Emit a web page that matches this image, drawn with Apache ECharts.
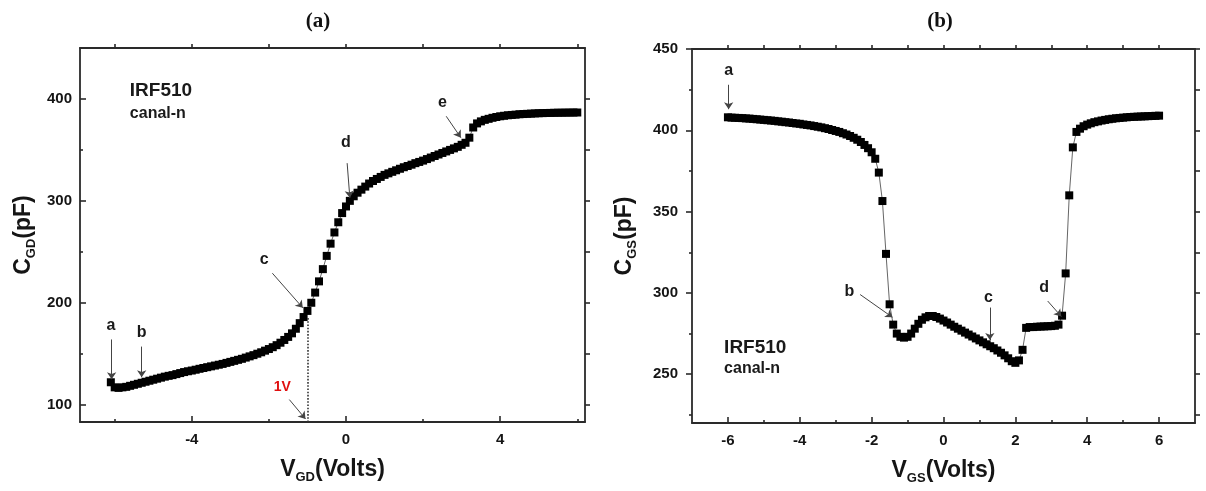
<!DOCTYPE html>
<html>
<head>
<meta charset="utf-8">
<script src="https://cdn.jsdelivr.net/npm/echarts@6/dist/echarts.min.js"></script>
<style>
html,body{margin:0;padding:0;background:#fff;}
#c{width:1206px;height:491px;}
</style>
</head>
<body>
<div id="c"></div>
<script>
// ---------- Panel (a): C_GD vs V_GD ----------
const vgd = [-6.1,-6.0,-5.9,-5.8,-5.7,-5.6,-5.5,-5.4,-5.3,-5.2,-5.1,-5.0,-4.9,-4.8,-4.7,-4.6,-4.5,-4.4,-4.3,-4.2,-4.1,-4.0,
  -3.9,-3.8,-3.7,-3.6,-3.5,-3.4,-3.3,-3.2,-3.1,-3.0,-2.9,-2.8,-2.7,-2.6,-2.5,-2.4,-2.3,-2.2,-2.1,-2.0,
  -1.9,-1.8,-1.7,-1.6,-1.5,-1.4,-1.3,-1.2,-1.1,-1.0,-0.9,-0.8,-0.7,-0.6,-0.5,-0.4,-0.3,-0.2,-0.1,0.0,
  0.1,0.2,0.3,0.4,0.5,0.6,0.7,0.8,0.9,1.0,1.1,1.2,1.3,1.4,1.5,1.6,1.7,1.8,1.9,2.0,
  2.1,2.2,2.3,2.4,2.5,2.6,2.7,2.8,2.9,3.0,3.1,3.2,3.3,3.4,3.5,3.6,3.7,3.8,3.9,4.0,
  4.1,4.2,4.3,4.4,4.5,4.6,4.7,4.8,4.9,5.0,5.1,5.2,5.3,5.4,5.5,5.6,5.7,5.8,5.9,6.0];
const cgd = [122,117,116.5,117,117.5,118.5,119.5,120.5,121.5,122.5,123.5,124.5,125.5,126.5,127.5,128.3,129,130,131,132,132.8,133.5,
  134.3,135.2,136,136.8,137.6,138.4,139.2,140,141,142,143,144,145,146.2,147.4,148.6,150,151.4,153,154.6,
  156.4,158.4,160.8,163.5,166.5,170,174.5,180,186,192,200,210,221,233,246,258,269,279,288,294.5,
  300,304.5,308,311,314,317,319.5,321.5,323.5,325.5,327,328.5,330,331.5,333,334.2,335.5,337,338.2,339.5,
  341,342.5,344,345.5,347,348.5,350,351.5,353,355,357,362,372,376,378,379.5,380.5,381.5,382.3,383,
  383.5,384,384.3,384.6,385,385.2,385.4,385.6,385.8,386,386.1,386.2,386.3,386.4,386.5,386.5,386.6,386.6,386.7,386.7];

// ---------- Panel (b): C_GS vs V_GS ----------
const vgs = [-6.0,-5.9,-5.8,-5.7,-5.6,-5.5,-5.4,-5.3,-5.2,-5.1,-5.0,-4.9,-4.8,-4.7,-4.6,-4.5,-4.4,-4.3,-4.2,-4.1,-4.0,
  -3.9,-3.8,-3.7,-3.6,-3.5,-3.4,-3.3,-3.2,-3.1,-3.0,-2.9,-2.8,-2.7,-2.6,-2.5,-2.4,-2.3,-2.2,-2.1,-2.0,
  -1.9,-1.8,-1.7,-1.6,-1.5,-1.4,-1.3,-1.2,-1.1,-1.0,-0.9,-0.8,-0.7,-0.6,-0.5,-0.4,-0.3,-0.2,-0.1,0.0,
  0.1,0.2,0.3,0.4,0.5,0.6,0.7,0.8,0.9,1.0,1.1,1.2,1.3,1.4,1.5,1.6,1.7,1.8,1.9,2.0,
  2.1,2.2,2.3,2.4,2.5,2.6,2.7,2.8,2.9,3.0,3.1,3.2,3.3,3.4,3.5,3.6,3.7,3.8,3.9,4.0,
  4.1,4.2,4.3,4.4,4.5,4.6,4.7,4.8,4.9,5.0,5.1,5.2,5.3,5.4,5.5,5.6,5.7,5.8,5.9,6.0];
const cgs = [408,407.8,407.7,407.6,407.5,407.3,407.2,407,406.8,406.6,406.4,406.2,406,405.8,405.5,405.3,405,404.8,404.5,404.2,404,
  403.6,403.3,403,402.6,402.2,401.8,401.3,400.8,400.2,399.6,399,398.2,397.4,396.5,395.4,394.2,392.8,391,389,386.5,
  382.5,374,356.5,324,293,280.5,275,273,272.5,273,275,278,281,283.5,285,285.8,285.8,285.2,284.2,283,
  281.8,280.5,279.2,278,276.8,275.6,274.4,273.2,272,270.8,269.6,268.4,267.2,266,264.6,263.2,261.6,259.8,258,257,
  258.5,265,278.5,279,279,279.2,279.3,279.4,279.5,279.6,279.8,280.5,286,312,360,389.5,399,401,402.5,403.5,
  404.3,405,405.5,406,406.4,406.8,407.1,407.4,407.6,407.8,408,408.2,408.3,408.4,408.5,408.6,408.7,408.8,408.9,409];

// tick values
const xLabelsA = [-4, 0, 4];
const xMinorA = [-6, -2, 2, 6];
const xTopA = [-6, -4, -2, 0, 2, 4, 6];
const yLabelsA = [100, 200, 300, 400];
const yMinorA = [150, 250, 350];
const yRightA = [100, 150, 200, 250, 300, 350, 400];

const xLabelsB = [-6, -4, -2, 0, 2, 4, 6];
const xMinorB = [-5, -3, -1, 1, 3, 5];
const xTopB = [-6, -5, -4, -3, -2, -1, 0, 1, 2, 3, 4, 5, 6];
const yLabelsB = [250, 300, 350, 400, 450];
const yMinorB = [225, 275, 325, 375, 425];
const yRightB = [225, 250, 275, 300, 325, 350, 375, 400, 425, 450];

// annotations (data coordinates)
const arrowsA = [[[-6.08, 164], [-6.08, 125]], [[-5.3, 157], [-5.3, 127]], [[-1.91, 229], [-1.12, 195]],
                 [[0.03, 337], [0.1, 303]], [[2.6, 383], [2.98, 362]], [[-1.47, 105], [-1.05, 86]]];
const lettersA = [['a', -6.1, 178], ['b', -5.3, 171], ['c', -2.12, 242], ['d', 0.0, 357], ['e', 2.5, 396]];
const dottedA = [[-1.0, 185], [-1.0, 83]];
const arrowsB = [[[-5.98, 428], [-5.98, 413]], [[-2.32, 299], [-1.42, 285]], [[1.29, 291], [1.29, 271]],
                 [[2.9, 295], [3.28, 285.5]]];
const lettersB = [['a', -5.98, 437], ['b', -2.62, 301], ['c', 1.25, 297], ['d', 2.8, 303]];

const FONT = 'Liberation Sans, Arial, sans-serif';
const AX = '#2a2a2a';
const TXT = '#151515';

function zip(xs, ys) { return xs.map((x, i) => [x, ys[i]]); }

const nameStyle = {
  fontFamily: FONT, fontWeight: 'bold', fontSize: 22, color: TXT,
  rich: {
    m: { fontFamily: FONT, fontWeight: 'bold', fontSize: 23, color: TXT, lineHeight: 28 },
    s: { fontFamily: FONT, fontWeight: 'bold', fontSize: 13, color: TXT, lineHeight: 14, verticalAlign: 'bottom' }
  }
};

function xMain(grid, min, max, labels, ticks, name) {
  return {
    type: 'value', gridIndex: grid, min, max, position: 'bottom',
    axisLine: { show: true, onZero: false, lineStyle: { color: AX, width: 1.8 } },
    axisTick: { show: true, inside: true, length: 6, customValues: ticks, lineStyle: { color: AX, width: 1.6 } },
    axisLabel: { customValues: labels, fontFamily: FONT, fontWeight: 'bold', fontSize: 15, color: TXT, margin: 10 },
    splitLine: { show: false },
    name: name, nameLocation: 'middle', nameGap: 34,
    nameTextStyle: nameStyle
  };
}
function xMinor(grid, min, max, ticks) {
  return {
    type: 'value', gridIndex: grid, min, max, position: 'bottom', offset: 0,
    axisLine: { show: false, onZero: false },
    axisTick: { show: true, inside: true, length: 3, customValues: ticks, lineStyle: { color: AX, width: 1.6 } },
    axisLabel: { show: false }, splitLine: { show: false }
  };
}
function xTop(grid, min, max, ticks) {
  return {
    type: 'value', gridIndex: grid, min, max, position: 'top',
    axisLine: { show: true, onZero: false, lineStyle: { color: AX, width: 1.8 } },
    axisTick: { show: true, inside: false, length: 4, customValues: ticks, lineStyle: { color: AX, width: 1.6 } },
    axisLabel: { show: false }, splitLine: { show: false }
  };
}
function yMain(grid, min, max, labels, inside, margin, name, gap) {
  return {
    type: 'value', gridIndex: grid, min, max, position: 'left',
    axisLine: { show: true, onZero: false, lineStyle: { color: AX, width: 1.8 } },
    axisTick: { show: true, inside: inside, length: 6, customValues: labels, lineStyle: { color: AX, width: 1.6 } },
    axisLabel: { customValues: labels, fontFamily: FONT, fontWeight: 'bold', fontSize: 15, color: TXT, margin: margin },
    splitLine: { show: false },
    name: name, nameLocation: 'middle', nameGap: gap, nameRotate: 90,
    nameTextStyle: nameStyle
  };
}
function yMinor(grid, min, max, ticks, inside) {
  return {
    type: 'value', gridIndex: grid, min, max, position: 'left', offset: 0,
    axisLine: { show: false, onZero: false },
    axisTick: { show: true, inside: inside, length: 3, customValues: ticks, lineStyle: { color: AX, width: 1.6 } },
    axisLabel: { show: false }, splitLine: { show: false }
  };
}
function yRight(grid, min, max, ticks) {
  return {
    type: 'value', gridIndex: grid, min, max, position: 'right',
    axisLine: { show: true, onZero: false, lineStyle: { color: AX, width: 1.8 } },
    axisTick: { show: true, inside: false, length: 5, customValues: ticks, lineStyle: { color: AX, width: 1.6 } },
    axisLabel: { show: false }, splitLine: { show: false }
  };
}

function arrowLines(list) {
  return list.map(a => [
    { coord: a[0], symbol: 'none' },
    { coord: a[1], symbol: 'arrow', symbolSize: 7 }
  ]);
}
function letterPts(list) {
  return list.map(l => ({ name: l[0], coord: [l[1], l[2]] }));
}

const textLabel = (fs, color) => ({
  show: true, position: 'inside', formatter: p => p.name,
  fontFamily: FONT, fontWeight: 'bold', fontSize: fs, color: color
});

function panelSeries(xs, ys, xi, yi, arrows, letters, extraLines, extraPts) {
  return {
    type: 'line', xAxisIndex: xi, yAxisIndex: yi,
    data: zip(xs, ys),
    symbol: 'rect', symbolSize: 8, showSymbol: true,
    itemStyle: { color: '#000' },
    lineStyle: { color: '#666', width: 1 },
    emphasis: { disabled: true },
    markLine: {
      silent: true, animation: false,
      label: { show: false },
      lineStyle: { color: '#444', width: 1, type: 'solid' },
      symbol: ['none', 'arrow'],
      data: arrowLines(arrows).concat(extraLines)
    },
    markPoint: {
      silent: true, animation: false,
      symbol: 'rect', symbolSize: 1,
      itemStyle: { color: 'rgba(0,0,0,0)' },
      label: textLabel(16, '#1a1a1a'),
      data: letterPts(letters).concat(extraPts)
    }
  };
}

const chart = echarts.init(document.getElementById('c'), null, { renderer: 'canvas' });

const irfStyle = (fs) => ({
  show: true, position: 'right', distance: 0, formatter: p => p.name,
  fontFamily: FONT, fontWeight: 'bold', fontSize: fs, color: '#1a1a1a'
});

const extraPtsA = [
  { name: 'IRF510', coord: [-5.62, 408], label: irfStyle(19) },
  { name: 'canal-n', coord: [-5.62, 386], label: irfStyle(16) },
  { name: '1V', coord: [-1.65, 117], label: { show: true, position: 'inside', formatter: p => p.name, fontFamily: FONT, fontWeight: 'bold', fontSize: 14, color: '#e01010' } }
];
const extraLinesA = [[
  { coord: dottedA[0], symbol: 'none', lineStyle: { type: 'dotted', width: 1.6, color: '#333' } },
  { coord: dottedA[1], symbol: 'none' }
]];
const extraPtsB = [
  { name: 'IRF510', coord: [-6.12, 266.3], label: irfStyle(19) },
  { name: 'canal-n', coord: [-6.12, 253.7], label: irfStyle(16) }
];

chart.setOption({
  animation: false,
  backgroundColor: '#fff',
  grid: [
    { left: 80, right: 621, top: 48, bottom: 69 },
    { left: 692, right: 11, top: 49, bottom: 68 }
  ],
  xAxis: [
    xMain(0, -6.9, 6.2, xLabelsA, xLabelsA, '{m|V}{s|GD}{m|(Volts)}'),
    xMinor(0, -6.9, 6.2, xMinorA),
    xTop(0, -6.9, 6.2, xTopA),
    xMain(1, -7, 7, xLabelsB, xLabelsB, '{m|V}{s|GS}{m|(Volts)}'),
    xMinor(1, -7, 7, xMinorB),
    xTop(1, -7, 7, xTopB)
  ],
  yAxis: [
    yMain(0, 83, 450, yLabelsA, true, 8, '{m|C}{s|GD}{m|(pF)}', 42),
    yMinor(0, 83, 450, yMinorA, true),
    yRight(0, 83, 450, yRightA),
    yMain(1, 220, 450, yLabelsB, false, 14, '{m|C}{s|GS}{m|(pF)}', 53),
    yMinor(1, 220, 450, yMinorB, false),
    yRight(1, 220, 450, yRightB)
  ],
  graphic: [
    { type: 'text', x: 318, y: 22, style: { text: '(a)', textAlign: 'center', textVerticalAlign: 'middle', fontFamily: 'Liberation Serif, Times New Roman, serif', fontWeight: 'bold', fontSize: 21, fill: '#111' } },
    { type: 'text', x: 940, y: 22, style: { text: '(b)', textAlign: 'center', textVerticalAlign: 'middle', fontFamily: 'Liberation Serif, Times New Roman, serif', fontWeight: 'bold', fontSize: 21, fill: '#111' } }
  ],
  series: [
    panelSeries(vgd, cgd, 0, 0, arrowsA, lettersA, extraLinesA, extraPtsA),
    panelSeries(vgs, cgs, 3, 3, arrowsB, lettersB, [], extraPtsB)
  ]
});
</script>
</body>
</html>
